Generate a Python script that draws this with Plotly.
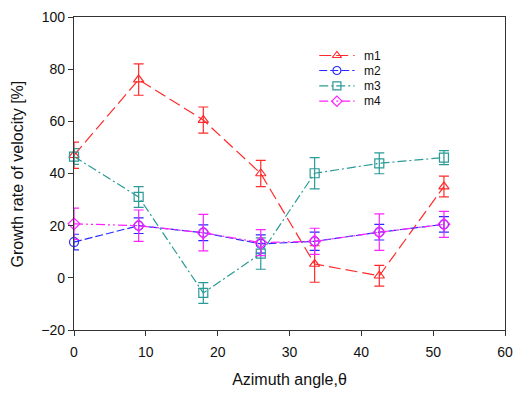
import plotly.graph_objects as go

angles = [0, 9, 18, 26, 33.5, 42.5, 51.5]

m1 = [47, 76, 60.5, 40, 5.3, 0.8, 35]
m1_err = [5, 6, 5, 5, 7, 4, 4]
m2 = [13.7, 20, 17.3, 13, 14, 17.5, 20.5]
m2_err = [3, 3, 3, 3.5, 3.5, 3, 3]
m3 = [46.5, 31, -5.8, 9.3, 40.1, 43.9, 46.1]
m3_err = [3, 4, 4, 6, 6, 4, 2.7]
m4 = [20.7, 20, 17.3, 13.5, 14, 17.5, 20.5]
m4_err = [6, 6, 7, 5, 5, 7, 5]

names = ["m1", "m2", "m3", "m4"]
values = [m1, m2, m3, m4]
errors = [m1_err, m2_err, m3_err, m4_err]
colors = ["#ff2a2a", "#2a2aff", "#2a9b96", "#ff22ff"]
symbols = ["triangle-up-open", "circle-open", "square-open", "diamond-open"]
dashes = ["12px,5px", "8px,3px", "9px,3px,2px,3px", "9px,3px,2px,3px,2px,3px"]

FONT = "Liberation Sans, Arial"

fig = go.Figure()
for name, y, err, color, symbol, dash in zip(names, values, errors, colors, symbols, dashes):
    fig.add_trace(go.Scatter(
        x=angles, y=y, name=name, mode="lines+markers",
        line=dict(color=color, width=1.2, dash=dash),
        marker=dict(symbol=symbol, size=9, color=color, line=dict(color=color, width=1.2)),
        error_y=dict(type="data", array=err, visible=True, color=color, thickness=1.2, width=5),
        cliponaxis=False, showlegend=False,
    ))

# manual compact legend on an overlay axis (0..1 in plot-area fractions)
leg_x0, leg_x1, leg_text_x = 0.569, 0.651, 0.670
leg_rows = [0.877, 0.829, 0.780, 0.731]
for name, color, symbol, dash, ly in zip(names, colors, symbols, dashes, leg_rows):
    fig.add_trace(go.Scatter(
        x=[leg_x0, leg_x1], y=[ly, ly], mode="lines", xaxis="x2", yaxis="y2",
        line=dict(color=color, width=1.2, dash=dash), showlegend=False, hoverinfo="skip",
    ))
    fig.add_trace(go.Scatter(
        x=[(leg_x0 + leg_x1) / 2], y=[ly], mode="markers", xaxis="x2", yaxis="y2",
        marker=dict(symbol=symbol, size=8, color=color, line=dict(color=color, width=1.2)),
        showlegend=False, hoverinfo="skip",
    ))
    fig.add_annotation(
        x=leg_text_x, y=ly, xref="x2", yref="y2", text=name, showarrow=False,
        xanchor="left", yanchor="middle", borderpad=0,
        font=dict(family=FONT, size=12, color="#111111"),
    )

# y-axis title as annotation to place it like the reference
fig.add_annotation(
    x=-0.13, y=0.5, xref="paper", yref="paper", text="Growth rate of velocity [%]",
    textangle=-90, showarrow=False, xanchor="center", yanchor="middle",
    font=dict(family=FONT, size=16, color="#111111"),
)

axis_common = dict(
    showline=True, linecolor="#333333", linewidth=1.2, mirror=True,
    showgrid=False, zeroline=False,
    ticks="outside", ticklen=5, tickcolor="#333333", tickwidth=1.2,
    tickfont=dict(family=FONT, size=14, color="#111111"),
)

fig.update_layout(
    width=522, height=395,
    margin=dict(l=74, r=9, t=14, b=65),
    paper_bgcolor="white", plot_bgcolor="white",
    showlegend=False,
    xaxis=dict(
        range=[0, 60], tickvals=[0, 10, 20, 30, 40, 50, 60],
        ticklabelstandoff=4, ticklabeloverflow="allow",
        title=dict(text="Azimuth angle,θ", font=dict(family=FONT, size=16, color="#111111"), standoff=14),
        **axis_common,
    ),
    yaxis=dict(
        range=[-20, 100], tickvals=[-20, 0, 20, 40, 60, 80, 100],
        **axis_common,
    ),
    xaxis2=dict(range=[0, 1], overlaying="x", visible=False, fixedrange=True),
    yaxis2=dict(range=[0, 1], overlaying="y", visible=False, fixedrange=True),
)

fig.write_html("out.html")
